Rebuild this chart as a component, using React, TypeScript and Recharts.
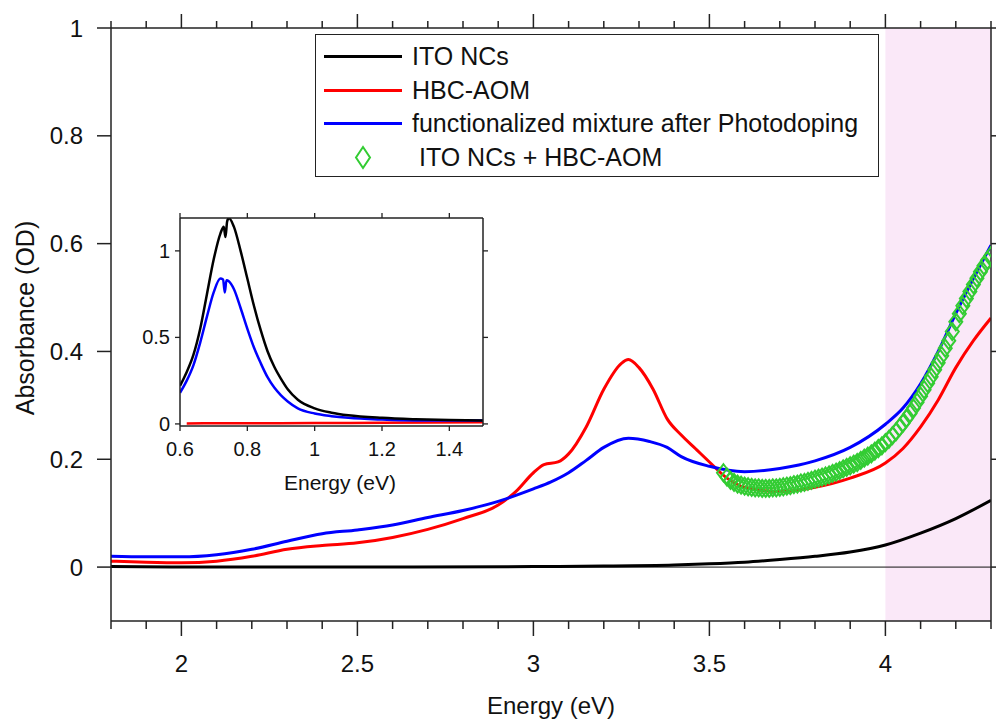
import { ComposedChart, Line, Scatter, XAxis, YAxis, ReferenceArea, ReferenceLine } from 'recharts'

const FONT = '"Liberation Sans", Arial, Helvetica, sans-serif'

// ---- main panel (energy in eV, absorbance in OD) ----
const itoEnergy = [1.8, 2.0, 2.5, 3.0, 3.2, 3.4, 3.5, 3.6, 3.7, 3.8, 3.9, 4.0, 4.1, 4.2, 4.3]
const itoAbs = [0.001, 0.0, 0.0, 0.001, 0.002, 0.004, 0.006, 0.009, 0.014, 0.02, 0.028, 0.041, 0.063, 0.09, 0.124]

const hbcEnergy = [1.8, 1.9, 2.0, 2.1, 2.2, 2.3, 2.4, 2.5, 2.6, 2.7, 2.8, 2.9, 2.95, 3.0, 3.03, 3.07, 3.1, 3.15, 3.2, 3.25, 3.27, 3.3, 3.34, 3.38, 3.42, 3.46, 3.5, 3.55, 3.6, 3.7, 3.8, 3.9, 4.0, 4.05, 4.1, 4.15, 4.2, 4.25, 4.3]
const hbcAbs = [0.011, 0.009, 0.008, 0.011, 0.02, 0.033, 0.04, 0.045, 0.055, 0.07, 0.09, 0.115, 0.14, 0.175, 0.19, 0.195, 0.21, 0.26, 0.33, 0.378, 0.385, 0.37, 0.33, 0.275, 0.245, 0.22, 0.195, 0.165, 0.148, 0.14, 0.148, 0.165, 0.193, 0.22, 0.26, 0.31, 0.37, 0.42, 0.462]

const mixEnergy = [1.8, 1.9, 2.0, 2.1, 2.2, 2.3, 2.4, 2.5, 2.6, 2.7, 2.8, 2.9, 3.0, 3.05, 3.1, 3.15, 3.2, 3.27, 3.33, 3.38, 3.42, 3.5, 3.6, 3.7, 3.8, 3.9, 4.0, 4.05, 4.1, 4.15, 4.2, 4.25, 4.3]
const mixAbs = [0.02, 0.019, 0.019, 0.023, 0.033, 0.048, 0.062, 0.069, 0.078, 0.092, 0.105, 0.122, 0.145, 0.158, 0.175, 0.198, 0.222, 0.239, 0.233, 0.222, 0.205, 0.187, 0.177, 0.183, 0.197, 0.222, 0.265, 0.295, 0.34, 0.4, 0.47, 0.535, 0.597]

const sumEnergy = [
  3.54, 3.55, 3.56, 3.57, 3.58, 3.59, 3.6, 3.61, 3.62, 3.63, 3.64, 3.65, 3.66, 3.67, 3.68, 3.69,
  3.7, 3.71, 3.72, 3.73, 3.74, 3.75, 3.76, 3.77, 3.78, 3.79, 3.8, 3.81, 3.82, 3.83, 3.84, 3.85,
  3.86, 3.87, 3.88, 3.89, 3.9, 3.91, 3.92, 3.93, 3.94, 3.95, 3.96, 3.97, 3.98, 3.99, 4.0, 4.01,
  4.02, 4.03, 4.04, 4.05, 4.06, 4.07, 4.08, 4.09, 4.1, 4.11, 4.12, 4.13, 4.14, 4.15, 4.16, 4.17,
  4.18, 4.19, 4.2, 4.21, 4.22, 4.23, 4.24, 4.25, 4.26, 4.27, 4.28, 4.29, 4.3,
]
const sumAbs = [
  0.175, 0.167, 0.161, 0.157, 0.154, 0.152, 0.15, 0.149, 0.148, 0.147, 0.147, 0.146, 0.146, 0.146, 0.147, 0.147,
  0.148, 0.149, 0.15, 0.151, 0.153, 0.154, 0.156, 0.157, 0.159, 0.161, 0.163, 0.165, 0.167, 0.169, 0.171, 0.174,
  0.176, 0.179, 0.182, 0.185, 0.188, 0.191, 0.194, 0.198, 0.202, 0.206, 0.21, 0.215, 0.22, 0.225, 0.231, 0.237,
  0.244, 0.251, 0.259, 0.267, 0.276, 0.285, 0.295, 0.306, 0.317, 0.329, 0.341, 0.353, 0.366, 0.379, 0.392, 0.406,
  0.42, 0.437, 0.455, 0.47, 0.485, 0.498, 0.511, 0.524, 0.536, 0.548, 0.559, 0.569, 0.578,
]

const xTicks = [1.8, 1.9, 2.0, 2.1, 2.2, 2.3, 2.4, 2.5, 2.6, 2.7, 2.8, 2.9, 3.0, 3.1, 3.2, 3.3, 3.4, 3.5, 3.6, 3.7, 3.8, 3.9, 4.0, 4.1, 4.2, 4.3]
const xLabeled = [2, 2.5, 3, 3.5, 4]
const yTicks = [0, 0.2, 0.4, 0.6, 0.8, 1]

// ---- inset (NIR region) ----
const insetItoEnergy = [0.6, 0.62, 0.64, 0.66, 0.68, 0.7, 0.72, 0.73, 0.735, 0.74, 0.745, 0.76, 0.78, 0.8, 0.82, 0.84, 0.86, 0.88, 0.9, 0.92, 0.95, 1.0, 1.05, 1.1, 1.2, 1.3, 1.4, 1.5]
const insetItoAbs = [0.22, 0.3, 0.4, 0.55, 0.75, 0.95, 1.1, 1.14, 1.08, 1.17, 1.19, 1.14, 1.0, 0.84, 0.68, 0.54, 0.42, 0.33, 0.26, 0.2, 0.14, 0.09, 0.065, 0.05, 0.035, 0.027, 0.022, 0.02]

const insetMixEnergy = [0.6, 0.62, 0.64, 0.66, 0.68, 0.7, 0.72, 0.728, 0.733, 0.738, 0.745, 0.76, 0.78, 0.8, 0.82, 0.84, 0.86, 0.88, 0.9, 0.92, 0.95, 1.0, 1.05, 1.1, 1.2, 1.3, 1.4, 1.5]
const insetMixAbs = [0.18, 0.25, 0.34, 0.47, 0.62, 0.76, 0.84, 0.835, 0.76, 0.83, 0.825, 0.78, 0.67, 0.55, 0.44, 0.35, 0.27, 0.21, 0.165, 0.13, 0.09, 0.06, 0.045, 0.035, 0.025, 0.02, 0.02, 0.02]

const insetHbcEnergy = [0.62, 0.8, 1.0, 1.2, 1.5]
const insetHbcAbs = [0.003, 0.004, 0.005, 0.007, 0.01]

const insetXTicks = [0.6, 0.8, 1.0, 1.2, 1.4]
const insetYTicks = [0, 0.5, 1]

const toPoints = (xs: number[], ys: number[]) => xs.map((x, i) => ({ x, y: ys[i] }))

const AXIS = { stroke: '#222', strokeWidth: 1.5 }
const isMajor = (v: number) => xLabeled.some((m) => Math.abs(m - v) < 1e-6)

const BottomTick = (props: any) => {
  const { x, y, payload } = props
  const major = isMajor(payload.value)
  return (
    <g>
      <line x1={x} x2={x} y1={y} y2={y + (major ? 15 : 8)} stroke="#222" strokeWidth={1.5} />
      {major && (
        <text x={x} y={y + 42} textAnchor="middle" dominantBaseline="central" fontSize={24} fontFamily={FONT} fill="#111">
          {payload.value}
        </text>
      )}
    </g>
  )
}

const TopTick = (props: any) => {
  const { x, y, payload } = props
  const major = isMajor(payload.value)
  return <line x1={x} x2={x} y1={y} y2={y - (major ? 14 : 7)} stroke="#222" strokeWidth={1.5} />
}

const LeftTick = (props: any) => {
  const { x, y, payload } = props
  return (
    <g>
      <line x1={x - 14} x2={x} y1={y} y2={y} stroke="#222" strokeWidth={1.5} />
      <text x={x - 28} y={y} textAnchor="end" dominantBaseline="central" fontSize={24} fontFamily={FONT} fill="#111">
        {payload.value}
      </text>
    </g>
  )
}

const RightTick = (props: any) => {
  const { x, y } = props
  return <line x1={x} x2={x + 10} y1={y} y2={y} stroke="#222" strokeWidth={1.5} />
}

const Diamond = (props: any) => {
  const { cx, cy } = props
  if (cx == null || cy == null) return null
  const w = 6.5
  const h = 8.5
  return <path d={`M${cx},${cy - h}L${cx + w},${cy}L${cx},${cy + h}L${cx - w},${cy}Z`} fill="none" stroke="#33CC33" strokeWidth={2} />
}

// inset ticks
const InsetBottomTick = (props: any) => {
  const { x, y, payload } = props
  return (
    <g>
      <line x1={x} x2={x} y1={y} y2={y + 5} stroke="#222" strokeWidth={1.3} />
      <text x={x} y={y + 23} textAnchor="middle" dominantBaseline="central" fontSize={20} fontFamily={FONT} fill="#111">
        {payload.value}
      </text>
    </g>
  )
}
const InsetTopTick = (props: any) => {
  const { x, y } = props
  return <line x1={x} x2={x} y1={y} y2={y - 5} stroke="#222" strokeWidth={1.3} />
}
const InsetLeftTick = (props: any) => {
  const { x, y, payload } = props
  return (
    <g>
      <line x1={x - 5} x2={x} y1={y} y2={y} stroke="#222" strokeWidth={1.3} />
      <text x={x - 10} y={y} textAnchor="end" dominantBaseline="central" fontSize={20} fontFamily={FONT} fill="#111">
        {payload.value}
      </text>
    </g>
  )
}
const InsetRightTick = (props: any) => {
  const { x, y } = props
  return <line x1={x} x2={x + 5} y1={y} y2={y} stroke="#222" strokeWidth={1.3} />
}

const legendRows = [
  { name: 'ITO NCs', color: '#000000', kind: 'line' },
  { name: 'HBC-AOM', color: '#FF0000', kind: 'line' },
  { name: 'functionalized mixture after Photodoping', color: '#0000FF', kind: 'line' },
  { name: ' ITO NCs + HBC-AOM', color: '#33CC33', kind: 'diamond' },
]

function ChartLegend() {
  return (
    <div
      style={{
        position: 'absolute',
        left: 315,
        top: 34,
        width: 564,
        height: 143,
        boxSizing: 'border-box',
        border: '1.5px solid #222',
        background: '#fff',
        fontFamily: FONT,
        fontSize: 25,
        color: '#111',
      }}
    >
      {legendRows.map((r, i) => (
        <div key={r.name} style={{ position: 'absolute', left: 0, top: 5 + i * 33.6, height: 33, width: '100%', display: 'flex', alignItems: 'center' }}>
          <svg width={96} height={33} style={{ flex: 'none' }}>
            {r.kind === 'line' ? (
              <line x1={8} x2={86} y1={16.5} y2={16.5} stroke={r.color} strokeWidth={3} />
            ) : (
              <path d="M47,6L54,16.5L47,27L40,16.5Z" fill="none" stroke={r.color} strokeWidth={2} />
            )}
          </svg>
          <span style={{ whiteSpace: 'pre' }}>{r.name}</span>
        </div>
      ))}
    </div>
  )
}

const titleStyle = {
  position: 'absolute' as const,
  fontFamily: FONT,
  color: '#111',
  whiteSpace: 'nowrap' as const,
  lineHeight: 1,
}

function Inset() {
  return (
    <div style={{ position: 'absolute', left: 120, top: 200 }}>
      <ComposedChart width={380} height={300} margin={{ top: 0, right: 0, bottom: 0, left: 0 }}>
        <XAxis xAxisId="b" type="number" dataKey="x" domain={[0.6, 1.5]} ticks={insetXTicks} interval={0} height={74} axisLine={AXIS} tickLine={false} tickSize={0} tickMargin={0} tick={<InsetBottomTick />} allowDataOverflow />
        <XAxis xAxisId="t" orientation="top" type="number" dataKey="x" domain={[0.6, 1.5]} ticks={insetXTicks} interval={0} height={18} axisLine={AXIS} tickLine={false} tickSize={0} tickMargin={0} tick={<InsetTopTick />} allowDataOverflow />
        <YAxis yAxisId="l" type="number" domain={[-0.012, 1.19]} ticks={insetYTicks} interval={0} width={60} axisLine={AXIS} tickLine={false} tickSize={0} tickMargin={0} tick={<InsetLeftTick />} allowDataOverflow />
        <YAxis yAxisId="r" orientation="right" type="number" domain={[-0.012, 1.19]} ticks={insetYTicks} interval={0} width={17} axisLine={AXIS} tickLine={false} tickSize={0} tickMargin={0} tick={<InsetRightTick />} allowDataOverflow />
        <Line xAxisId="b" yAxisId="l" data={toPoints(insetHbcEnergy, insetHbcAbs)} dataKey="y" type="monotone" stroke="#FF0000" strokeWidth={2.5} dot={false} isAnimationActive={false} />
        <Line xAxisId="b" yAxisId="l" data={toPoints(insetMixEnergy, insetMixAbs)} dataKey="y" type="monotone" stroke="#0000FF" strokeWidth={2.5} dot={false} isAnimationActive={false} />
        <Line xAxisId="b" yAxisId="l" data={toPoints(insetItoEnergy, insetItoAbs)} dataKey="y" type="monotone" stroke="#000000" strokeWidth={2.5} dot={false} isAnimationActive={false} />
      </ComposedChart>
      <div style={{ ...titleStyle, left: 220, top: 282, fontSize: 21, transform: 'translate(-50%, -50%)' }}>Energy (eV)</div>
    </div>
  )
}

export default function App() {
  return (
    <div style={{ position: 'absolute', left: 0, top: 0, width: 996, height: 723, background: '#fff', overflow: 'hidden' }}>
      <ComposedChart width={996} height={723} margin={{ top: 0, right: 0, bottom: 0, left: 0 }}>
        <XAxis xAxisId="b" type="number" dataKey="x" domain={[1.8, 4.3]} ticks={xTicks} interval={0} height={102} axisLine={AXIS} tickLine={false} tickSize={0} tickMargin={0} tick={<BottomTick />} allowDataOverflow />
        <XAxis xAxisId="t" orientation="top" type="number" dataKey="x" domain={[1.8, 4.3]} ticks={xTicks} interval={0} height={28} axisLine={AXIS} tickLine={false} tickSize={0} tickMargin={0} tick={<TopTick />} allowDataOverflow />
        <YAxis yAxisId="l" type="number" domain={[-0.1, 1]} ticks={yTicks} interval={0} width={111} axisLine={AXIS} tickLine={false} tickSize={0} tickMargin={0} tick={<LeftTick />} allowDataOverflow />
        <YAxis yAxisId="r" orientation="right" type="number" domain={[-0.1, 1]} ticks={yTicks} interval={0} width={5} axisLine={AXIS} tickLine={false} tickSize={0} tickMargin={0} tick={<RightTick />} allowDataOverflow />
        <ReferenceArea xAxisId="b" yAxisId="l" x1={4} x2={4.3} fill="#FAE8F8" fillOpacity={1} stroke="none" ifOverflow="hidden" />
        <ReferenceLine xAxisId="b" yAxisId="l" y={0} stroke="#111" strokeWidth={1} />
        <Line xAxisId="b" yAxisId="l" data={toPoints(itoEnergy, itoAbs)} dataKey="y" type="monotone" stroke="#000000" strokeWidth={3} dot={false} isAnimationActive={false} />
        <Line xAxisId="b" yAxisId="l" data={toPoints(hbcEnergy, hbcAbs)} dataKey="y" type="monotone" stroke="#FF0000" strokeWidth={3} dot={false} isAnimationActive={false} />
        <Line xAxisId="b" yAxisId="l" data={toPoints(mixEnergy, mixAbs)} dataKey="y" type="monotone" stroke="#0000FF" strokeWidth={3} dot={false} isAnimationActive={false} />
        <Scatter xAxisId="b" yAxisId="l" data={toPoints(sumEnergy, sumAbs)} dataKey="y" shape={<Diamond />} isAnimationActive={false} />
      </ComposedChart>
      <ChartLegend />
      <Inset />
      <div style={{ ...titleStyle, left: 551, top: 706, fontSize: 24, transform: 'translate(-50%, -50%)' }}>Energy (eV)</div>
      <div style={{ ...titleStyle, left: 25, top: 318, fontSize: 25, transform: 'translate(-50%, -50%) rotate(-90deg)' }}>Absorbance (OD)</div>
    </div>
  )
}
